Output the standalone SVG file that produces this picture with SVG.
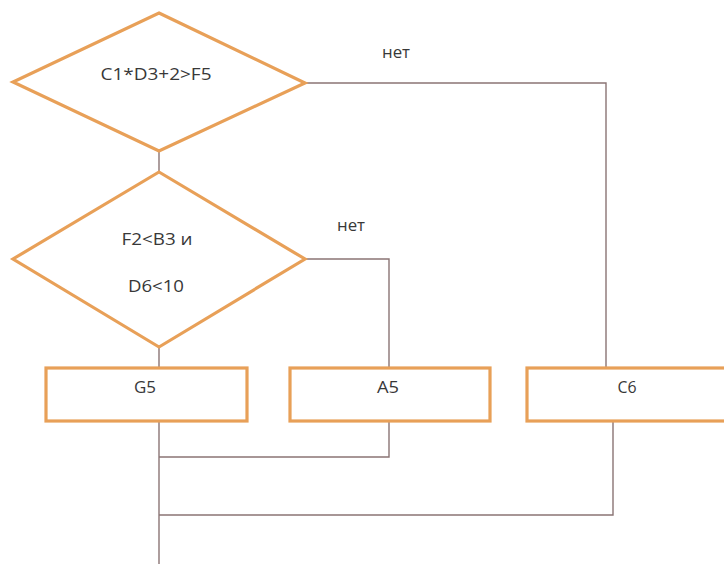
<svg xmlns="http://www.w3.org/2000/svg" width="724" height="564" viewBox="0 0 724 564">
<style>
.shape{fill:#fff;stroke:#E8A058;stroke-width:3.2;stroke-linejoin:miter}
.conn{fill:none;stroke:#8A7474;stroke-width:1.4}
text{font-family:"Open Sans","Liberation Sans",sans-serif;font-size:16px;fill:#383838;text-anchor:middle}
</style>
<rect width="724" height="564" fill="#fff"/>
<g id="connectors">
<path class="conn" d="M159 151 V172"/>
<path class="conn" d="M305 83 H606 V368"/>
<path class="conn" d="M305 259 H389 V368"/>
<path class="conn" d="M159 347 V368"/>
<path class="conn" d="M159 421 V564"/>
<path class="conn" d="M389 421 V457 H159"/>
<path class="conn" d="M613 421 V515 H159"/>
<text x="396" y="58" textLength="28" lengthAdjust="spacingAndGlyphs">нет</text>
<text x="351" y="231" textLength="28" lengthAdjust="spacingAndGlyphs">нет</text>
</g>
<g id="cond1">
<polygon class="shape" points="159,13 305,83 159,151 13,82"/>
<text x="156" y="80" textLength="111" lengthAdjust="spacingAndGlyphs">C1*D3+2&gt;F5</text>
</g>
<g id="cond2">
<polygon class="shape" points="159,172 305,259 159,347 13,259"/>
<text x="157" y="245" textLength="71" lengthAdjust="spacingAndGlyphs">F2&lt;B3 и</text>
<text x="156" y="292" textLength="56" lengthAdjust="spacingAndGlyphs">D6&lt;10</text>
</g>
<g id="g5">
<rect class="shape" x="46" y="368" width="201" height="53"/>
<text x="145" y="393" textLength="22" lengthAdjust="spacingAndGlyphs">G5</text>
</g>
<g id="a5">
<rect class="shape" x="290" y="368" width="200" height="53"/>
<text x="388" y="393" textLength="22" lengthAdjust="spacingAndGlyphs">A5</text>
</g>
<g id="c6">
<rect class="shape" x="527" y="368" width="200" height="53"/>
<text x="627" y="393" textLength="19" lengthAdjust="spacingAndGlyphs">C6</text>
</g>
</svg>
